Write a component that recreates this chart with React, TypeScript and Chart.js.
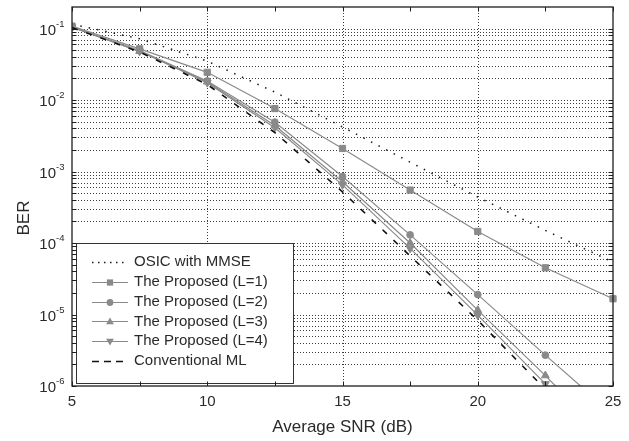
import { useEffect, useRef } from "react";
import { Chart, registerables } from "chart.js";

Chart.register(...registerables);

// ---- data ----
const snrDb = [5, 7.5, 10, 12.5, 15, 17.5, 20, 22.5, 25];
const osicMmse = [0.115, 0.072, 0.035, 0.0129, 0.0042, 0.00135, 4.4e-4, 1.5e-4, 5.4e-5];
const proposedL1 = [0.108, 0.052, 0.0244, 0.0076, 0.0021, 5.5e-4, 1.45e-4, 4.5e-5, 1.66e-5];
const proposedL2 = [0.105, 0.049, 0.0185, 0.0049, 8.5e-4, 1.3e-4, 1.9e-5, 2.7e-6, 4.0e-7];
const proposedL3 = [0.105, 0.048, 0.018, 0.0044, 7.2e-4, 1.0e-4, 1.15e-5, 1.4e-6, 1.5e-7];
const proposedL4 = [0.105, 0.048, 0.0175, 0.0041, 6.5e-4, 8.4e-5, 9.8e-6, 1.07e-6, 1.1e-7];
const conventionalMl = [0.103, 0.047, 0.0165, 0.0035, 5.2e-4, 6.6e-5, 8.3e-6, 9.0e-7, 9.0e-8];

const seriesLabels = [
  "OSIC with MMSE",
  "The Proposed (L=1)",
  "The Proposed (L=2)",
  "The Proposed (L=3)",
  "The Proposed (L=4)",
  "Conventional ML",
];

const xMajorTicks = [5, 10, 15, 20, 25];
const xMinorTicks = [7.5, 12.5, 17.5, 22.5];
const xGridValues = [10, 15, 20];
const yDecadeExps = [-6, -5, -4, -3, -2, -1];
const xTitle = "Average SNR (dB)";
const yTitle = "BER";

const GRAY = "rgb(138,138,138)";
const INK = "#2a2a2a";
const FONT = "'Liberation Sans', Arial, sans-serif";

type Style = {
  color: string;
  dash: number[];
  legendDash: number[];
  width: number;
  point: false | "rect" | "circle" | "triangle";
  radius: number;
  rotation: number;
};

const styles: Style[] = [
  { color: "#1a1a1a", dash: [1.5, 7], legendDash: [1.5, 4.5], width: 1.5, point: false, radius: 0, rotation: 0 },
  { color: GRAY, dash: [], legendDash: [], width: 1.2, point: "rect", radius: 4.4, rotation: 0 },
  { color: GRAY, dash: [], legendDash: [], width: 1.2, point: "circle", radius: 3.4, rotation: 0 },
  { color: GRAY, dash: [], legendDash: [], width: 1.2, point: "triangle", radius: 4.5, rotation: 0 },
  { color: GRAY, dash: [], legendDash: [], width: 1.2, point: "triangle", radius: 4.5, rotation: 180 },
  { color: "#111", dash: [6, 9], legendDash: [7, 5], width: 1.6, point: false, radius: 0, rotation: 0 },
];

const seriesValues = [osicMmse, proposedL1, proposedL2, proposedL3, proposedL4, conventionalMl];

function yGridValues(): number[] {
  const out: number[] = [];
  for (let e = -6; e <= -2; e++) {
    for (let m = 1; m <= 9; m++) out.push(m * Math.pow(10, e));
  }
  out.push(0.1);
  return out;
}

function legendMarker(ctx: CanvasRenderingContext2D, s: Style, x: number, y: number) {
  if (!s.point) return;
  ctx.save();
  ctx.fillStyle = s.color;
  ctx.beginPath();
  const r = s.radius;
  if (s.point === "rect") {
    const h = r * Math.SQRT1_2;
    ctx.rect(x - h, y - h, 2 * h, 2 * h);
  } else if (s.point === "circle") {
    ctx.arc(x, y, r, 0, Math.PI * 2);
  } else {
    const sign = s.rotation === 180 ? -1 : 1;
    const rad = (s.rotation * Math.PI) / 180;
    for (let k = 0; k < 3; k++) {
      const ang = rad - Math.PI / 2 + (k * 2 * Math.PI) / 3;
      const px = x + Math.cos(ang) * r;
      const py = y + Math.sin(ang) * r + sign * 0.5;
      if (k === 0) ctx.moveTo(px, py);
      else ctx.lineTo(px, py);
    }
    ctx.closePath();
  }
  ctx.fill();
  ctx.restore();
}

const decorPlugin = {
  id: "decor",
  beforeDatasetsDraw(chart: any) {
    const { ctx, chartArea: a, scales } = chart;
    const x = scales.x;
    const y = scales.y;
    ctx.save();
    ctx.strokeStyle = "#3c3c3c";
    ctx.lineWidth = 1;
    ctx.setLineDash([1, 2]);
    for (const v of xGridValues) {
      const px = Math.round(x.getPixelForValue(v)) + 0.5;
      ctx.beginPath();
      ctx.moveTo(px, a.top);
      ctx.lineTo(px, a.bottom);
      ctx.stroke();
    }
    for (const v of yGridValues()) {
      const py = Math.round(y.getPixelForValue(v)) + 0.5;
      if (py < a.top + 1 || py > a.bottom - 1) continue;
      ctx.beginPath();
      ctx.moveTo(a.left, py);
      ctx.lineTo(a.right, py);
      ctx.stroke();
    }
    ctx.restore();
  },
  afterDatasetsDraw(chart: any) {
    const { ctx } = chart;
    ctx.save();
    ctx.fillStyle = "#fff";
    ctx.fillRect(76, 243, 217, 140);
    ctx.strokeStyle = "#333";
    ctx.lineWidth = 1;
    ctx.setLineDash([]);
    ctx.strokeRect(76.5, 243.5, 217, 140);
    ctx.font = `15px ${FONT}`;
    ctx.textBaseline = "middle";
    ctx.textAlign = "left";
    seriesLabels.forEach((label, i) => {
      const s = styles[i];
      const cy = 262 + i * 19.8;
      ctx.save();
      ctx.strokeStyle = s.color;
      ctx.lineWidth = s.width;
      ctx.setLineDash(s.legendDash);
      ctx.beginPath();
      ctx.moveTo(92, Math.round(cy) + 0.5);
      ctx.lineTo(128, Math.round(cy) + 0.5);
      ctx.stroke();
      ctx.restore();
      legendMarker(ctx, s, 110, Math.round(cy) + 0.5);
      ctx.fillStyle = INK;
      ctx.fillText(label, 134, cy);
    });
    ctx.restore();
  },
  afterDraw(chart: any) {
    const { ctx, chartArea: a, scales } = chart;
    const x = scales.x;
    const y = scales.y;
    ctx.save();
    ctx.setLineDash([]);
    ctx.strokeStyle = "#1e1e1e";
    ctx.lineWidth = 1.3;
    ctx.strokeRect(a.left, a.top, a.right - a.left, a.bottom - a.top);
    ctx.lineWidth = 1;
    const tl = 4.5;
    for (const v of [...xMajorTicks, ...xMinorTicks]) {
      const px = Math.round(x.getPixelForValue(v)) + 0.5;
      ctx.beginPath();
      ctx.moveTo(px, a.bottom);
      ctx.lineTo(px, a.bottom - tl);
      ctx.moveTo(px, a.top);
      ctx.lineTo(px, a.top + tl);
      ctx.stroke();
    }
    for (const v of yGridValues()) {
      const py = Math.round(y.getPixelForValue(v)) + 0.5;
      ctx.beginPath();
      ctx.moveTo(a.left, py);
      ctx.lineTo(a.left + tl, py);
      ctx.moveTo(a.right, py);
      ctx.lineTo(a.right - tl, py);
      ctx.stroke();
    }
    ctx.fillStyle = INK;
    ctx.font = `15px ${FONT}`;
    ctx.textAlign = "center";
    ctx.textBaseline = "alphabetic";
    for (const v of xMajorTicks) {
      ctx.fillText(String(v), x.getPixelForValue(v), 406);
    }
    for (const e of yDecadeExps) {
      const py = y.getPixelForValue(Math.pow(10, e));
      ctx.font = `15px ${FONT}`;
      ctx.textAlign = "right";
      ctx.textBaseline = "alphabetic";
      ctx.fillText("10", 56, py + 6);
      ctx.font = `9.5px ${FONT}`;
      ctx.textAlign = "left";
      ctx.fillText(String(e), 56, py - 2);
    }
    ctx.font = `17px ${FONT}`;
    ctx.textAlign = "center";
    ctx.textBaseline = "alphabetic";
    ctx.fillText(xTitle, (a.left + a.right) / 2, 432);
    ctx.save();
    ctx.translate(29, 218);
    ctx.rotate(-Math.PI / 2);
    ctx.fillText(yTitle, 0, 0);
    ctx.restore();
    ctx.restore();
  },
};

export default function App() {
  const ref = useRef<HTMLCanvasElement | null>(null);
  useEffect(() => {
    if (!ref.current) return;
    const datasets = seriesValues.map((vals, i) => {
      const s = styles[i];
      return {
        label: seriesLabels[i],
        data: snrDb.map((v, j) => ({ x: v, y: vals[j] })),
        borderColor: s.color,
        backgroundColor: s.color,
        borderWidth: s.width,
        borderDash: s.dash,
        pointStyle: s.point === false ? "circle" : s.point,
        pointRadius: s.point ? s.radius : 0,
        pointRotation: s.rotation,
        pointBorderWidth: 1,
        pointBackgroundColor: s.color,
        pointBorderColor: s.color,
        tension: 0,
        fill: false,
        clip: { left: 0, top: 6, right: 6, bottom: 0 },
      };
    });
    const chart = new Chart(ref.current, {
      type: "line",
      data: { datasets: datasets.reverse() as any },
      options: {
        animation: false,
        responsive: false,
        devicePixelRatio: 1,
        layout: { padding: { left: 72, top: 7, right: 16, bottom: 55 } },
        plugins: { legend: { display: false }, tooltip: { enabled: false } },
        scales: {
          x: { type: "linear", min: 5, max: 25, display: false },
          y: { type: "logarithmic", min: 1e-6, max: 0.2, display: false },
        },
      },
      plugins: [decorPlugin],
    });
    return () => chart.destroy();
  }, []);
  return (
    <div style={{ position: "fixed", left: 0, top: 0, width: 629, height: 441, background: "#fff" }}>
      <canvas ref={ref} width={629} height={441} style={{ display: "block" }} />
    </div>
  );
}
